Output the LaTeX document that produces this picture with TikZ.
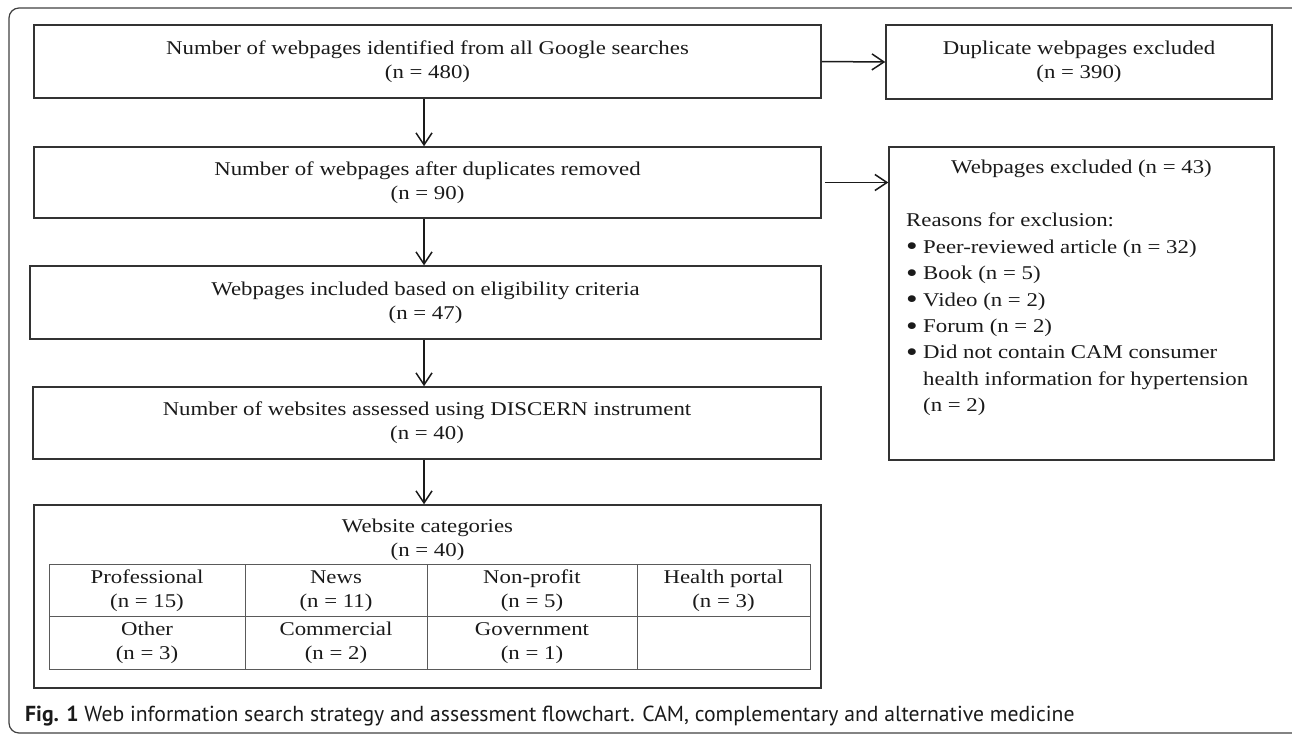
\documentclass[tikz,border=0pt]{standalone}
\usepackage{fontspec}
\setmainfont{Liberation Serif}[FakeStretch=1.17]
\newfontfamily\capfont{PT Sans}
\usetikzlibrary{arrows.meta}
\definecolor{boxline}{HTML}{333333}
\definecolor{gridline}{HTML}{5A5A5A}
\definecolor{inktext}{HTML}{1A1A1A}
\newcommand\boxsize{\fontsize{19.5}{24}\selectfont}
\newcommand\dotmark{\makebox[17pt][l]{\raisebox{-2.6pt}{\scalebox{1.45}{\textbullet}}}}

\tikzset{
  flowbox/.style={draw=boxline, line width=1.5pt, inner sep=0pt, align=center, text=inktext, font=\boxsize},
  flowarrow/.style={draw=inktext, line width=1.5pt, -{Straight Barb[length=12pt,width=16pt]}},
  cell/.style={align=center, inner sep=0pt, text=inktext, font=\boxsize},
}

\begin{document}
\begin{tikzpicture}[x=1pt,y=-1pt]
\useasboundingbox (0,0) rectangle (1292,734);
% outer frame
\draw[draw=black!75, line width=1.2pt, rounded corners=10pt] (9,8) rectangle (1302,733);

\coordinate (spine) at (424,0);

\node[flowbox, minimum width=787pt, minimum height=73pt] (search) at (427.5,61.5) {Number of webpages identified from all Google searches\\(n = 480)};
\node[flowbox, minimum width=386pt, minimum height=74pt] (dupl) at (1079,62) {Duplicate webpages excluded\\(n = 390)};
\node[flowbox, minimum width=787pt, minimum height=71pt] (dedup) at (427.5,182.5) {Number of webpages after duplicates removed\\(n = 90)};
\node[flowbox, minimum width=791pt, minimum height=73pt] (eligible) at (425.5,302.5) {Webpages included based on eligibility criteria\\(n = 47)};
\node[flowbox, minimum width=788pt, minimum height=72pt] (assessed) at (427,423) {Number of websites assessed using DISCERN instrument\\(n = 40)};
\node[flowbox, minimum width=787pt, minimum height=183pt] (categories) at (427.5,596.5) {};
\node[flowbox, minimum width=385pt, minimum height=313pt] (excluded) at (1081.5,303.5) {};

% exclusion reasons
\node[cell] (exctitle) at (1081.5,169) {Webpages excluded (n = 43)};
\node[cell, anchor=north west, align=left, font=\fontsize{19.5}{26.4}\selectfont] (reasons) at (906,213) {Reasons for exclusion:\\
\dotmark Peer-reviewed article (n = 32)\\
\dotmark Book (n = 5)\\
\dotmark Video (n = 2)\\
\dotmark Forum (n = 2)\\
\dotmark Did not contain CAM consumer\\
\hspace*{17pt}health information for hypertension\\
\hspace*{17pt}(n = 2)};

% category table
\node[cell] (cattitle) at (427.5,540) {Website categories\\(n = 40)};
\draw[draw=gridline, line width=1pt] (49,564) rectangle (810,669);
\draw[draw=gridline, line width=1pt] (49,616) -- (810,616)
  (245,564) -- (245,669) (427,564) -- (427,669) (637,564) -- (637,669);
\node[cell] (professional) at (147,591) {Professional\\(n = 15)};
\node[cell] (news) at (336,591) {News\\(n = 11)};
\node[cell] (nonprofit) at (532,591) {Non-profit\\(n = 5)};
\node[cell] (portal) at (723.5,591) {Health portal\\(n = 3)};
\node[cell] (other) at (147,643) {Other\\(n = 3)};
\node[cell] (commercial) at (336,643) {Commercial\\(n = 2)};
\node[cell] (government) at (532,643) {Government\\(n = 1)};

% arrows
\draw[flowarrow] (search.east) -- (dupl.west);
\draw[flowarrow] ([xshift=3pt]dedup.east) -- (dedup.east -| excluded.west);
\draw[flowarrow] (search.south -| spine) -- (dedup.north -| spine);
\draw[flowarrow] (dedup.south -| spine) -- (eligible.north -| spine);
\draw[flowarrow] (eligible.south -| spine) -- (assessed.north -| spine);
\draw[flowarrow] (assessed.south -| spine) -- (categories.north -| spine);

\node[anchor=base west, inner sep=0pt, text=inktext, font=\capfont\fontsize{21.7}{24}\selectfont] (caption) at (25,721) {\textbf{Fig. 1} Web information search strategy and assessment flowchart. CAM, complementary and alternative medicine};
\end{tikzpicture}
\end{document}
